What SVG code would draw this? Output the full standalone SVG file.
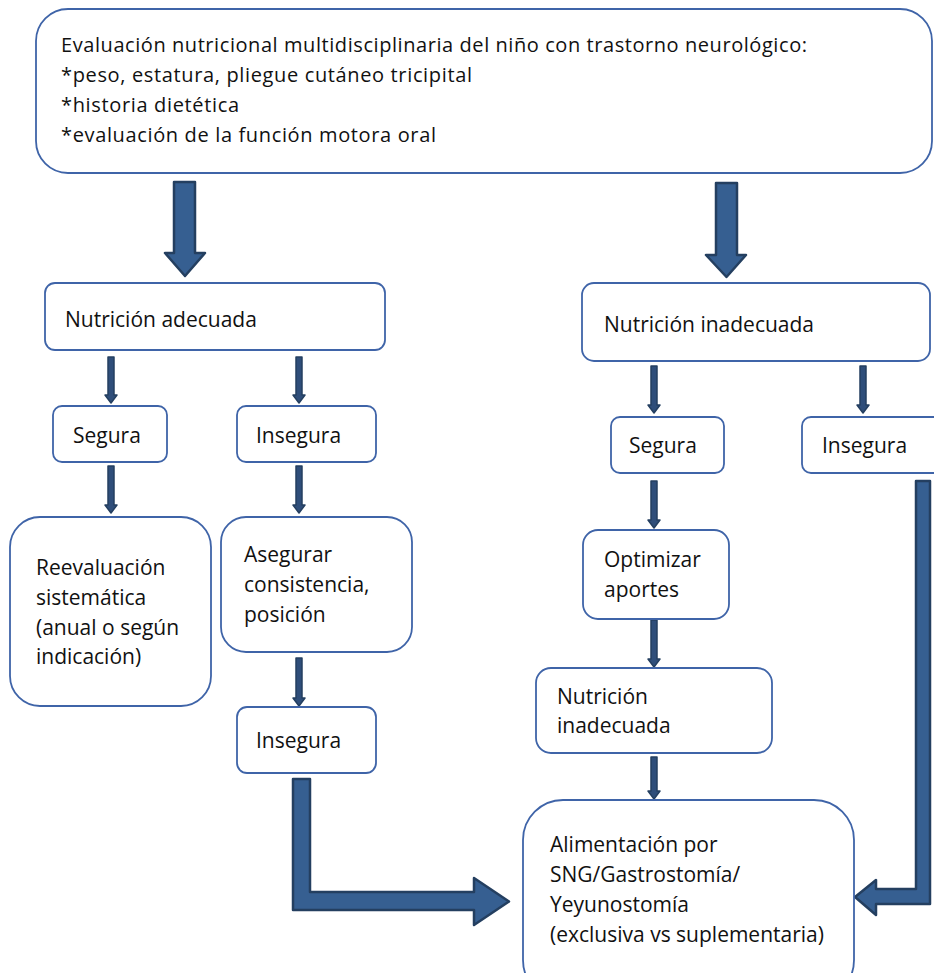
<svg xmlns="http://www.w3.org/2000/svg" width="934" height="973" viewBox="0 0 934 973">
<style>
.box{fill:#ffffff;stroke:#3F64A8;stroke-width:1.8}
.t{font-family:"Open Sans","Noto Sans","DejaVu Sans",sans-serif;font-size:21px;fill:#111111}
.tt{font-family:"Open Sans","Noto Sans","DejaVu Sans",sans-serif;font-size:20px;fill:#111111}
.big{fill:#365F91;stroke:#243F60;stroke-width:2.5;stroke-linejoin:round}
.sm{fill:#2F4E7A;stroke:#243F60;stroke-width:1.5;stroke-linejoin:round}
</style>
<rect width="934" height="973" fill="#ffffff"/>
<g id="connectors">
<polygon class="big" points="174,182 195,182 195,253 205,253 185,276 165,253 174,253"/>
<polygon class="big" points="716,183 737,183 737,255 746,255 726.5,277 706,255 716,255"/>
<polygon class="sm" points="108,357 114,357 114,395 117,395 111,403 105,395 108,395"/>
<polygon class="sm" points="296,357 302,357 302,395 305,395 299,403 293,395 296,395"/>
<polygon class="sm" points="108,466 114,466 114,505 117,505 111,513 105,505 108,505"/>
<polygon class="sm" points="296,466 302,466 302,505 305,505 299,513 293,505 296,505"/>
<polygon class="sm" points="296,658 302,658 302,698 305,698 299,706 293,698 296,698"/>
<polygon class="sm" points="651,366 657,366 657,405 660,405 654,413 648,405 651,405"/>
<polygon class="sm" points="860,366 866,366 866,405 869,405 863,413 857,405 860,405"/>
<polygon class="sm" points="651,481 657,481 657,520 660,520 654,528 648,520 651,520"/>
<polygon class="sm" points="651,620 657,620 657,659 660,659 654,667 648,659 651,659"/>
<polygon class="sm" points="651,757 657,757 657,791 660,791 654,799 648,791 651,791"/>
<polygon class="big" points="293,779 310,779 310,892 474,892 474,878 509,901.5 474,925 474,910 293,910"/>
<polygon class="big" points="916,481 930,481 930,904 876,904 876,915 855,897 876,880 876,889 916,889"/>
</g>
<g id="n-eval">
<rect class="box" x="36" y="9" width="896" height="164" rx="32" ry="32"/>
<text class="tt" x="61" y="52" textLength="746">Evaluación nutricional multidisciplinaria del niño con trastorno neurológico:</text>
<text class="tt" x="61" y="82" textLength="411">*peso, estatura, pliegue cutáneo tricipital</text>
<text class="tt" x="61" y="112" textLength="178">*historia dietética</text>
<text class="tt" x="61" y="142" textLength="375">*evaluación de la función motora oral</text>
</g>
<g id="n-adecuada">
<rect class="box" x="45" y="283" width="340" height="67" rx="10" ry="10"/>
<text class="t" x="65" y="327">Nutrición adecuada</text>
</g>
<g id="n-inadecuada">
<rect class="box" x="582" y="283" width="348" height="78" rx="12" ry="12"/>
<text class="t" x="604" y="332">Nutrición inadecuada</text>
</g>
<g id="n-segura-l">
<rect class="box" x="53" y="406" width="114" height="56" rx="9" ry="9"/>
<text class="t" x="73" y="443">Segura</text>
</g>
<g id="n-insegura-l">
<rect class="box" x="237" y="406" width="139" height="56" rx="9" ry="9"/>
<text class="t" x="256" y="443">Insegura</text>
</g>
<g id="n-segura-r">
<rect class="box" x="611" y="417" width="113" height="56" rx="9" ry="9"/>
<text class="t" x="629" y="453">Segura</text>
</g>
<g id="n-insegura-r">
<rect class="box" x="802" y="417" width="150" height="56" rx="9" ry="9"/>
<text class="t" x="822" y="453">Insegura</text>
</g>
<g id="n-reevaluacion">
<rect class="box" x="10" y="517" width="201" height="189" rx="30" ry="30"/>
<text class="t" x="36" y="575">Reevaluación</text>
<text class="t" x="36" y="605">sistemática</text>
<text class="t" x="36" y="635">(anual o según</text>
<text class="t" x="36" y="664">indicación)</text>
</g>
<g id="n-asegurar">
<rect class="box" x="221" y="517" width="191" height="135" rx="25" ry="25"/>
<text class="t" x="244" y="562">Asegurar</text>
<text class="t" x="244" y="592">consistencia,</text>
<text class="t" x="244" y="622">posición</text>
</g>
<g id="n-insegura-2">
<rect class="box" x="237" y="707" width="139" height="66" rx="10" ry="10"/>
<text class="t" x="256" y="748">Insegura</text>
</g>
<g id="n-optimizar">
<rect class="box" x="583" y="530" width="146" height="89" rx="15" ry="15"/>
<text class="t" x="604" y="567">Optimizar</text>
<text class="t" x="604" y="597">aportes</text>
</g>
<g id="n-inadecuada-2">
<rect class="box" x="536" y="668" width="236" height="85" rx="15" ry="15"/>
<text class="t" x="557" y="704">Nutrición</text>
<text class="t" x="557" y="733">inadecuada</text>
</g>
<g id="n-alimentacion">
<rect class="box" x="523" y="800" width="331" height="200" rx="40" ry="40"/>
<text class="t" x="550" y="852">Alimentación por</text>
<text class="t" x="550" y="882">SNG/Gastrostomía/</text>
<text class="t" x="550" y="912">Yeyunostomía</text>
<text class="t" x="550" y="942">(exclusiva vs suplementaria)</text>
</g>
</svg>
